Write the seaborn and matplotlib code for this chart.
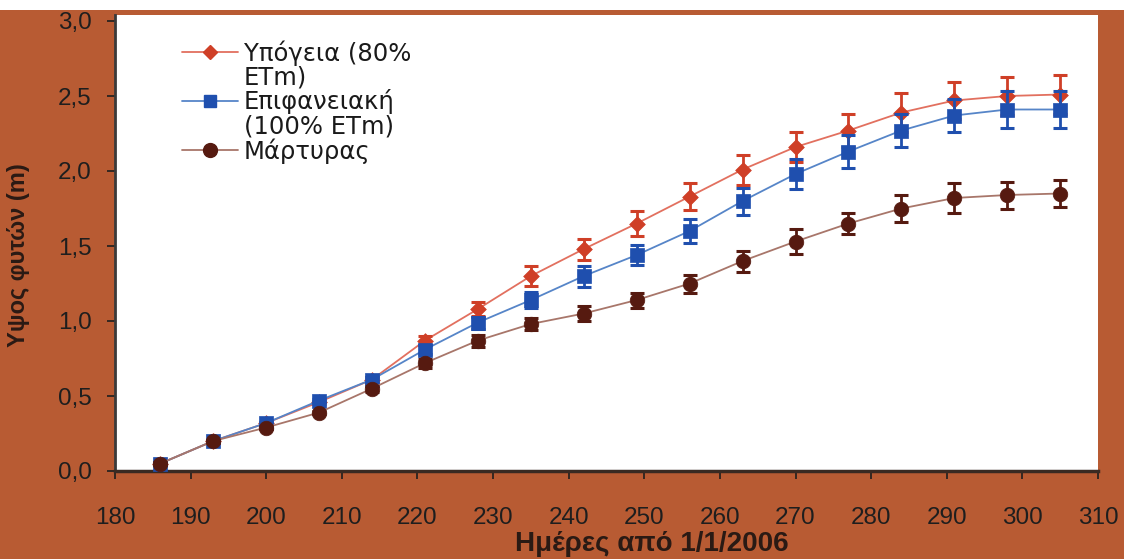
import matplotlib
matplotlib.use("Agg")
import matplotlib.pyplot as plt
import seaborn as sns
import pandas as pd
import numpy as np
from matplotlib.lines import Line2D
from matplotlib.patches import Rectangle
from matplotlib.ticker import FuncFormatter

# ---------------- data ----------------
days = [186, 193, 200, 207, 214, 221, 228, 235, 242, 249, 256, 263, 270, 277, 284, 291, 298, 305]

sub_label = "Υπόγεια (80% ETm)"
surf_label = "Επιφανειακή (100% ETm)"
ctrl_label = "Μάρτυρας"

sub_vals = [0.05, 0.20, 0.32, 0.46, 0.61, 0.87, 1.08, 1.30, 1.48, 1.65, 1.83, 2.01, 2.16, 2.27, 2.39, 2.47, 2.50, 2.51]
sub_err = [0.01, 0.01, 0.01, 0.01, 0.02, 0.03, 0.045, 0.065, 0.07, 0.085, 0.09, 0.10, 0.10, 0.11, 0.13, 0.125, 0.125, 0.13]

surf_vals = [0.05, 0.20, 0.32, 0.47, 0.61, 0.81, 0.99, 1.14, 1.30, 1.44, 1.60, 1.80, 1.98, 2.13, 2.27, 2.37, 2.41, 2.41]
surf_err = [0.01, 0.01, 0.01, 0.01, 0.02, 0.03, 0.04, 0.055, 0.07, 0.065, 0.08, 0.09, 0.10, 0.11, 0.11, 0.11, 0.12, 0.12]

ctrl_vals = [0.05, 0.20, 0.29, 0.39, 0.55, 0.72, 0.87, 0.98, 1.05, 1.14, 1.25, 1.40, 1.53, 1.65, 1.75, 1.82, 1.84, 1.85]
ctrl_err = [0.01, 0.01, 0.01, 0.01, 0.02, 0.03, 0.04, 0.04, 0.05, 0.05, 0.06, 0.07, 0.08, 0.07, 0.09, 0.10, 0.09, 0.09]

x_ticks = [180, 190, 200, 210, 220, 230, 240, 250, 260, 270, 280, 290, 300, 310]
y_ticks = [0.0, 0.5, 1.0, 1.5, 2.0, 2.5, 3.0]

# ---------------- style ----------------
BG = "#B85B33"
line_cols = {sub_label: "#E2705F", surf_label: "#5685C8", ctrl_label: "#A8766A"}
mark_cols = {sub_label: "#CF3F27", surf_label: "#1F4FAE", ctrl_label: "#561A10"}
markers = {sub_label: "D", surf_label: "s", ctrl_label: "o"}
msizes = {sub_label: 8.0, surf_label: 9.5, ctrl_label: 10.5}

sns.set_style("ticks")
plt.rcParams["font.family"] = ["Liberation Sans", "DejaVu Sans"]

df = pd.concat([
    pd.DataFrame({"day": days, "height": sub_vals, "err": sub_err, "series": sub_label}),
    pd.DataFrame({"day": days, "height": surf_vals, "err": surf_err, "series": surf_label}),
    pd.DataFrame({"day": days, "height": ctrl_vals, "err": ctrl_err, "series": ctrl_label}),
], ignore_index=True)

W, H = 1124, 559
fig = plt.figure(figsize=(W / 100, H / 100), dpi=100, facecolor=BG)
ax_left, ax_right, ax_top, ax_bottom = 115, 1098, 15, 471
ax = fig.add_axes([ax_left / W, 1 - ax_bottom / H, (ax_right - ax_left) / W, (ax_bottom - ax_top) / H])
ax.set_facecolor("white")

order = [sub_label, surf_label, ctrl_label]
for i, name in enumerate(order):
    sub = df[df["series"] == name]
    sns.lineplot(data=sub, x="day", y="height", ax=ax, color=line_cols[name],
                 linewidth=1.3, errorbar=None, legend=False, zorder=2 + i * 3)
    ax.errorbar(sub["day"], sub["height"], yerr=sub["err"], fmt="none",
                ecolor=mark_cols[name], elinewidth=2.0, capsize=4.8, capthick=2.2,
                zorder=3 + i * 3)
    sns.scatterplot(data=sub, x="day", y="height", ax=ax, marker=markers[name],
                    s=msizes[name] ** 2, color=mark_cols[name], edgecolor=mark_cols[name],
                    linewidth=0.5, legend=False, zorder=4 + i * 3)

ax.set_xlim(180, 310)
ax.set_ylim(0, 3.04)
ax.set_xticks(x_ticks)
ax.set_yticks(y_ticks)
ax.yaxis.set_major_formatter(FuncFormatter(lambda v, p: f"{v:.1f}".replace(".", ",")))
ax.tick_params(axis="both", labelsize=17.5, colors="#1e1e1e", length=6, width=1.2, direction="out")
ax.tick_params(axis="x", pad=20)
ax.tick_params(axis="y", pad=11)
for s in ["top", "right"]:
    ax.spines[s].set_visible(False)
ax.spines["left"].set_color("#3a3a3a")
ax.spines["left"].set_linewidth(2.0)
ax.spines["bottom"].set_color("#3a2a22")
ax.spines["bottom"].set_linewidth(2.5)
ax.set_xlabel("")
ax.set_ylabel("")

# axis titles
fig.text(19 / W, 1 - 255 / H, "Υψος φυτών (m)", rotation=90, ha="center", va="center",
         fontsize=17, fontweight="bold", color="#2a1a14",
         family=["Liberation Sans Narrow", "Liberation Sans", "DejaVu Sans"])
fig.text(652 / W, 1 - 544 / H, "Ημέρες από 1/1/2006", ha="center", va="center",
         fontsize=20, fontweight="bold", color="#2a1a14",
         family=["Liberation Sans Narrow", "Liberation Sans", "DejaVu Sans"])

# legend (labels wrap onto a second line as in the original)
def h(name):
    return Line2D([], [], color=line_cols[name], linewidth=1.3, marker=markers[name],
                  markersize=msizes[name] * 0.95, markerfacecolor=mark_cols[name],
                  markeredgecolor=mark_cols[name])
blank = Line2D([], [], color="none")
handles = [h(sub_label), blank, h(surf_label), blank, h(ctrl_label)]
labels = ["Υπόγεια (80%", "ETm)", "Επιφανειακή", "(100% ETm)", "Μάρτυρας"]
leg = fig.legend(handles, labels, loc="upper left", bbox_to_anchor=(182 / W, 1 - 40 / H),
                 frameon=False, handlelength=2.3, handletextpad=0.25,
                 labelspacing=0.0, borderpad=0, borderaxespad=0,
                 prop={"family": "DejaVu Sans", "size": 17.5})
for t in leg.get_texts():
    t.set_color("#1a1a1a")

# white strip at the very top (cropped original)
fig.patches.append(Rectangle((0, 1 - 10 / H), 1, 10 / H, transform=fig.transFigure,
                             facecolor="white", edgecolor="none", zorder=10))

fig.savefig("out.png", dpi=100, facecolor=BG)
